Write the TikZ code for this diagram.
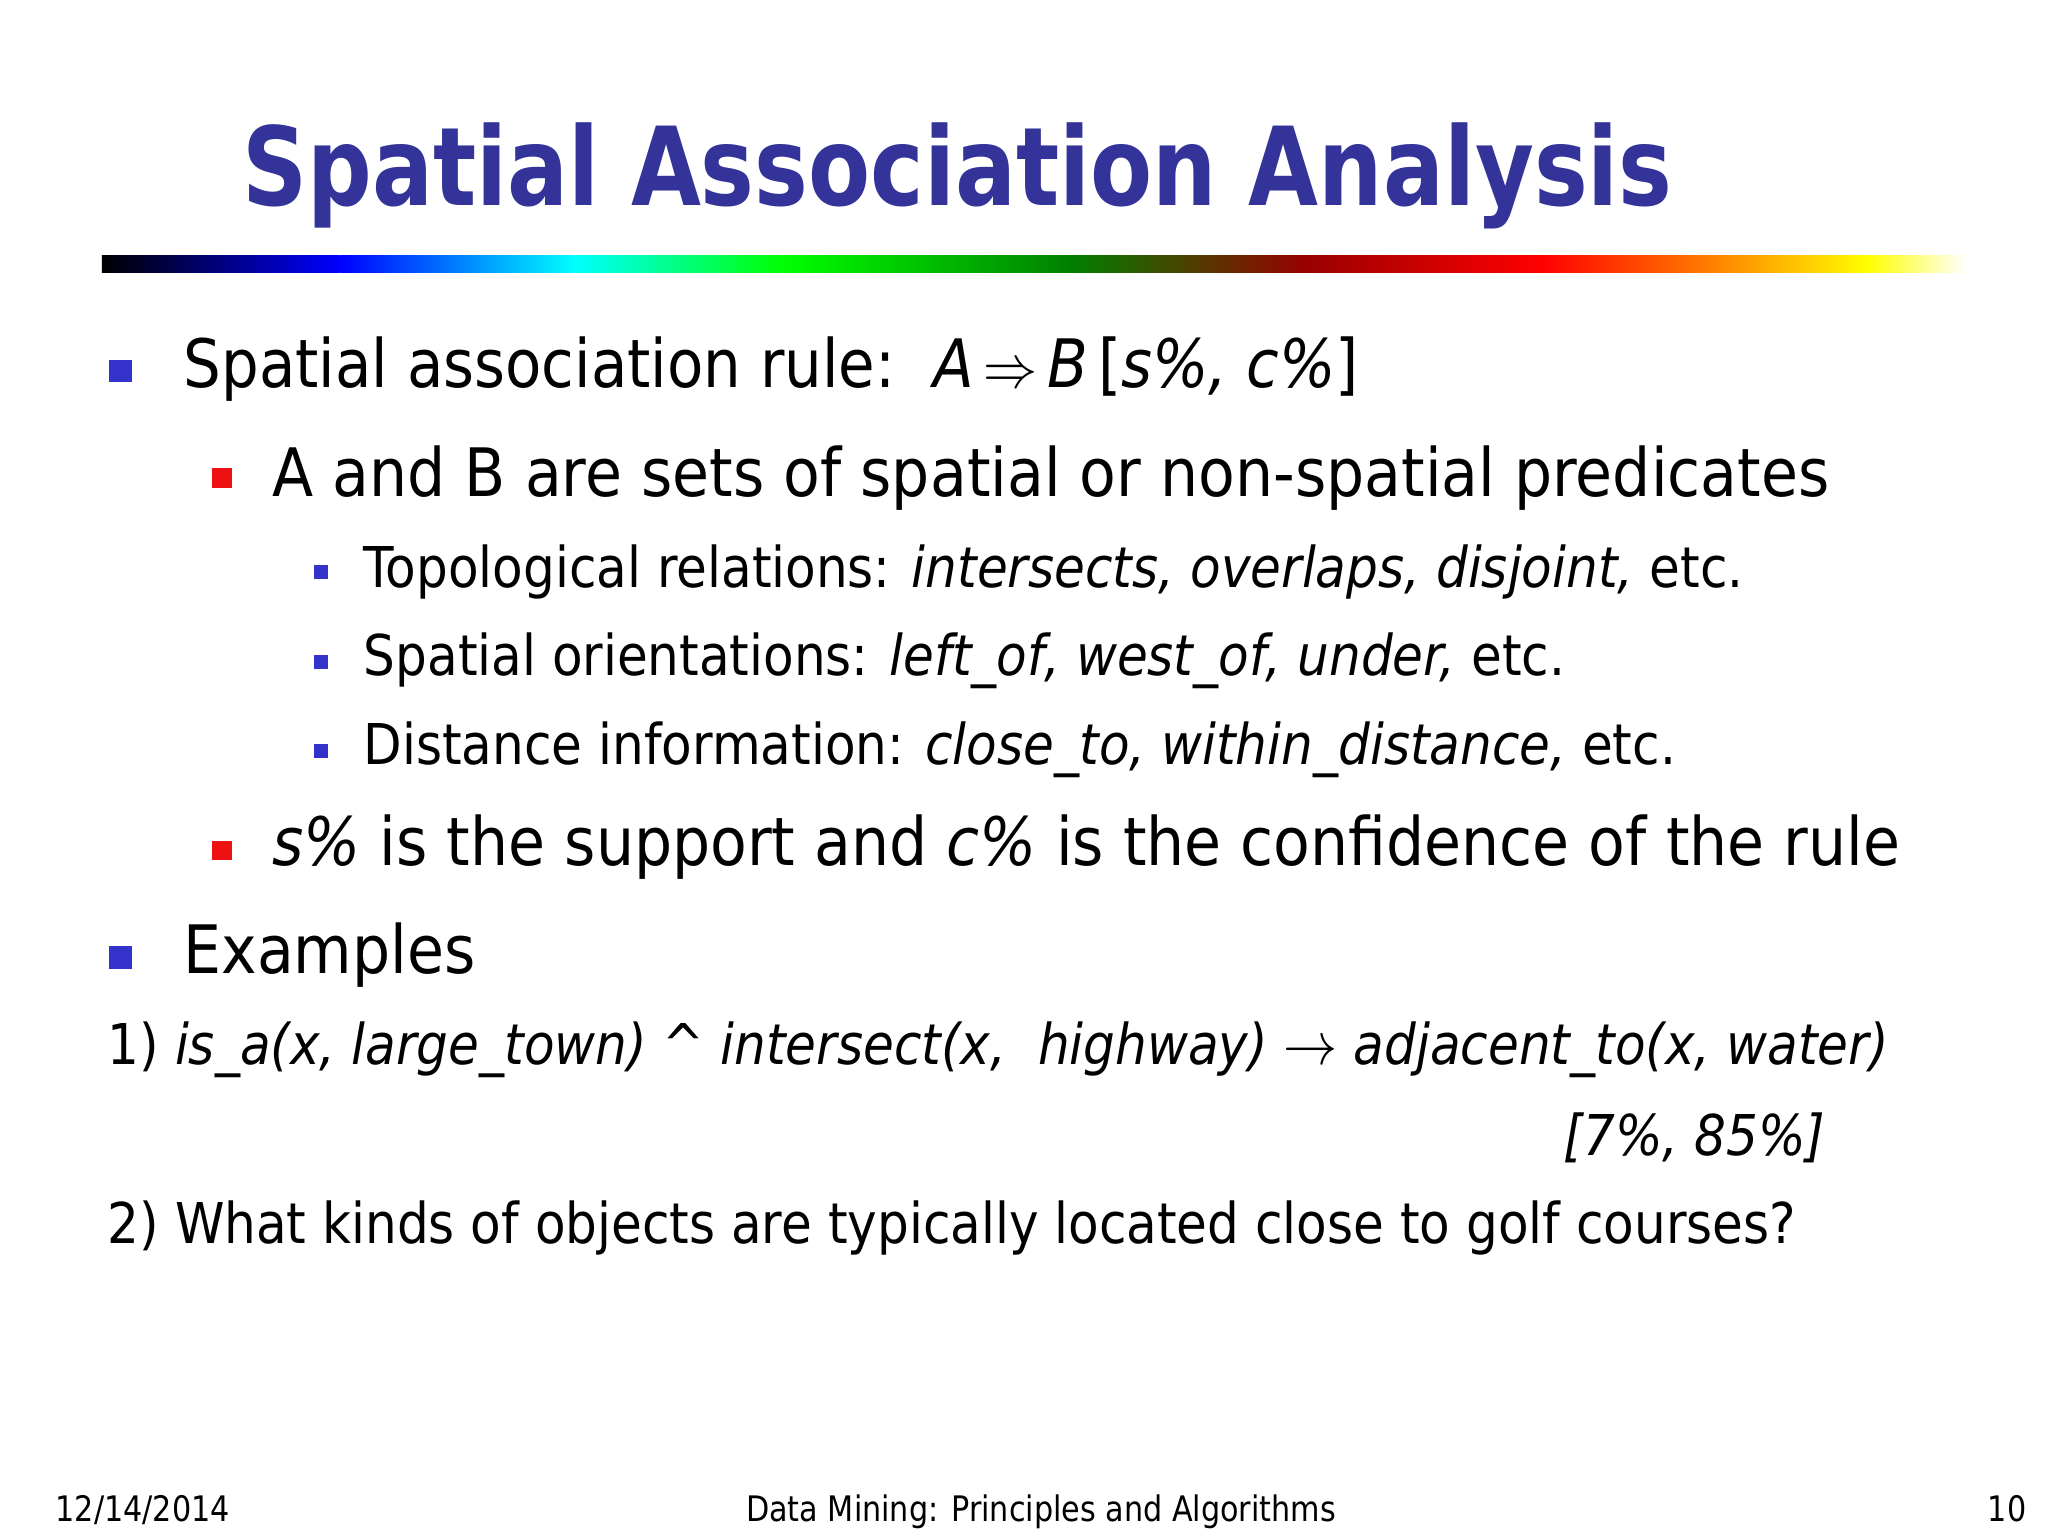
\documentclass[tikz,border=0pt]{standalone}
\usepackage{fontspec}
\setmainfont{DejaVu Sans}
\usepackage{xcolor}
\usepackage{graphicx}
\definecolor{ttl}{HTML}{333399}
\definecolor{bb}{HTML}{3333CC}
\definecolor{rb}{HTML}{EE1111}
\newcommand{\hs}[2]{\scalebox{#1}[1]{#2}}
\begin{document}
\begin{tikzpicture}[x=0.013061cm,y=-0.013061cm,
 txt/.style={anchor=base west,inner sep=0pt},
 big/.style={txt,font=\fontsize{19}{22}\selectfont},
 mid/.style={txt,font=\fontsize{16}{19}\selectfont},
 bl1/.style={fill=bb,minimum size=6.5pt,inner sep=0pt},
 bl2/.style={fill=rb,minimum size=5.5pt,inner sep=0pt},
 bl3/.style={fill=bb,minimum size=4pt,inner sep=0pt}]
\useasboundingbox (0,0) rectangle (1568,1176);
\node[txt,font=\fontsize{31}{34}\bfseries\selectfont,text=ttl] (title) at (185,157) {\hs{0.83}{Spatial Association Analysis}};
% gradient bar
\def\by{196}\def\bh{209}
\shade[left color=black,right color=blue] (78,\by) rectangle (260,\bh);
\shade[left color=blue,right color=cyan] (260,\by) rectangle (440,\bh);
\shade[left color=cyan,right color=green] (440,\by) rectangle (600,\bh);
\shade[left color=green,right color=green!50!black] (600,\by) rectangle (820,\bh);
\shade[left color=green!50!black,right color=red!60!black] (820,\by) rectangle (1000,\bh);
\shade[left color=red!60!black,right color=red] (1000,\by) rectangle (1180,\bh);
\shade[left color=red,right color=orange] (1180,\by) rectangle (1310,\bh);
\shade[left color=orange,right color=yellow] (1310,\by) rectangle (1430,\bh);
\shade[left color=yellow,right color=white] (1430,\by) rectangle (1505,\bh);
% bullets
\node[bl1] (b1) at (92,284) {};
\node[bl2] (b2) at (170,366) {};
\node[bl3] (b3) at (246,438) {};
\node[bl3] (b4) at (246,507) {};
\node[bl3] (b5) at (246,575) {};
\node[bl2] (b6) at (170,651) {};
\node[bl1] (b7) at (92,733) {};
% texts
\node[big] (t1) at (140,297) {\hs{0.89}{Spatial association rule:\ \ \textit{A}\,$\Rightarrow$\,\textit{B}\,[\textit{s\%, c\%}]}};
\node[big] (t2) at (208,380) {\hs{0.9}{A and B are sets of spatial or non-spatial predicates}};
\node[mid] (t3) at (278,450) {\hs{0.89}{Topological relations: \textit{intersects, overlaps, disjoint,} etc.}};
\node[mid] (t4) at (278,517) {\hs{0.89}{Spatial orientations: \textit{left\_of, west\_of, under,} etc.}};
\node[mid] (t5) at (278,585) {\hs{0.89}{Distance information: \textit{close\_to, within\_distance,} etc.}};
\node[big] (t6) at (208,663) {\hs{0.9}{\textit{s\%} is the support and \textit{c\%} is the confidence of the rule}};
\node[big] (t7) at (140,745) {\hs{0.9}{Examples}};
\node[mid] (e1) at (82,815) {\hs{0.89}{1) \textit{is\_a(x, large\_town) \textasciicircum{} intersect(x,\ \ highway)} $\rightarrow$ \textit{adjacent\_to(x, water)}}};
\node[mid,anchor=base east] (e1b) at (1398,885) {\hs{0.89}{\textit{[7\%, 85\%]}}};
\node[mid] (e2) at (82,952) {\hs{0.89}{2) What kinds of objects are typically located close to golf courses?}};
% footer
\node[txt,font=\fontsize{10}{12}\selectfont] (f1) at (42,1165) {\hs{0.86}{12/14/2014}};
\node[txt,anchor=base,font=\fontsize{10}{12}\selectfont] (f2) at (797,1165) {\hs{0.86}{Data Mining: Principles and Algorithms}};
\node[txt,anchor=base east,font=\fontsize{10}{12}\selectfont] (f3) at (1552,1165) {\hs{0.86}{10}};
\end{tikzpicture}
\end{document}
